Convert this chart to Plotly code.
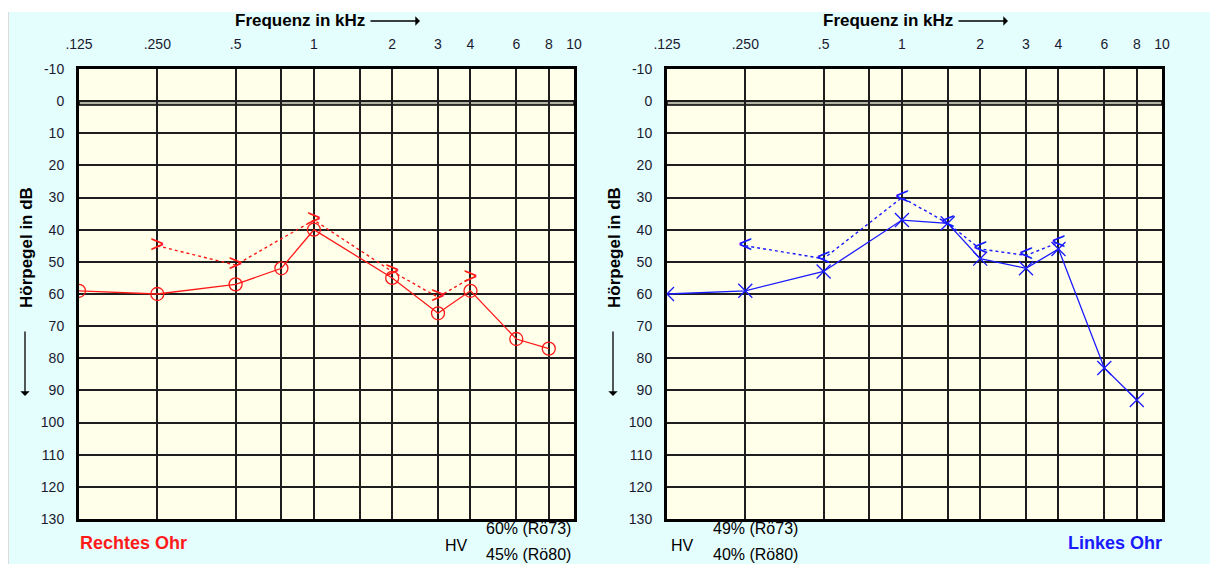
import math
import plotly.graph_objects as go

# ---- data ----
freq_right_air = [0.125, 0.25, 0.5, 0.75, 1, 2, 3, 4, 6, 8]
db_right_air = [59, 60, 57, 52, 40, 55, 66, 59, 74, 77]
freq_right_bone = [0.25, 0.5, 1, 2, 3, 4]
db_right_bone = [45, 51, 37, 53, 61, 55]

freq_left_air = [0.125, 0.25, 0.5, 1, 1.5, 2, 3, 4, 6, 8]
db_left_air = [60, 59, 53, 37, 38, 49, 52, 46, 83, 93]
freq_left_bone = [0.25, 0.5, 1, 1.5, 2, 3, 4]
db_left_bone = [45, 49, 30, 38, 46, 48, 44]

x_tickvals = [0.125, 0.25, 0.5, 1, 2, 3, 4, 6, 8, 10]
x_ticktext = [".125", ".250", ".5", "1", "2", "3", "4", "6", "8", "10"]
x_minor = [0.75, 1.5]
y_tickvals = list(range(-10, 131, 10))
y_ticktext = [str(v) for v in y_tickvals]

W, H = 1210, 564
RED = "#ff1a1a"
BLUE = "#1a1aff"
FONT = "Liberation Sans"


def px(x):  # x in page pixels
    return x / W


def py(y):  # y in page pixels
    return 1 - y / H


fig = go.Figure()

# right ear (left panel)
fig.add_trace(go.Scatter(x=freq_right_bone, y=db_right_bone, mode="lines+text",
                         text=[">"] * len(freq_right_bone), textposition="middle center",
                         textfont=dict(family=FONT, size=24, color=RED),
                         line=dict(color=RED, width=1.4, dash="dot"),
                         xaxis="x", yaxis="y", showlegend=False))
fig.add_trace(go.Scatter(x=freq_right_air, y=db_right_air, mode="lines+markers",
                         marker=dict(symbol="circle-open", size=13, color=RED, line=dict(width=1.3, color=RED)),
                         line=dict(color=RED, width=1.3),
                         xaxis="x", yaxis="y", showlegend=False))
# left ear (right panel)
fig.add_trace(go.Scatter(x=freq_left_bone, y=db_left_bone, mode="lines+text",
                         text=["<"] * len(freq_left_bone), textposition="middle center",
                         textfont=dict(family=FONT, size=24, color=BLUE),
                         line=dict(color=BLUE, width=1.4, dash="dot"),
                         xaxis="x2", yaxis="y2", showlegend=False))
fig.add_trace(go.Scatter(x=freq_left_air, y=db_left_air, mode="lines+markers",
                         marker=dict(symbol="x-thin-open", size=14, color=BLUE, line=dict(width=1.3, color=BLUE)),
                         line=dict(color=BLUE, width=1.3),
                         xaxis="x2", yaxis="y2", showlegend=False))

xrange_ = [math.log10(0.125), math.log10(10)]
grid_col = "#1e1e1e"


def xax(domain, anchor):
    return dict(type="log", range=xrange_, domain=domain, anchor=anchor, side="top",
                tickmode="array", tickvals=x_tickvals, ticktext=x_ticktext,
                ticks="outside", ticklen=11, tickcolor="rgba(0,0,0,0)",
                tickfont=dict(family=FONT, size=14, color="#1a1a30"),
                showgrid=True, gridcolor=grid_col, gridwidth=2,
                minor=dict(tickvals=x_minor, showgrid=True, gridcolor=grid_col, gridwidth=2),
                showline=True, linecolor="black", linewidth=3, mirror=True,
                zeroline=False, fixedrange=True, automargin=False)


def yax(domain, anchor):
    return dict(range=[130, -10], domain=domain, anchor=anchor,
                tickmode="array", tickvals=y_tickvals, ticktext=y_ticktext,
                ticks="outside", ticklen=9, tickcolor="rgba(0,0,0,0)",
                tickfont=dict(family=FONT, size=14, color="#1a1a30"),
                showgrid=True, gridcolor=grid_col, gridwidth=2,
                showline=True, linecolor="black", linewidth=3, mirror=True,
                zeroline=False, fixedrange=True, automargin=False)


ydom = [py(519), py(69)]
fig.update_layout(
    template="none",
    width=W, height=H,
    margin=dict(l=0, r=0, t=0, b=0, pad=0, autoexpand=False),
    paper_bgcolor="#e4fdfd",
    plot_bgcolor="#ffffea",
    showlegend=False,
    xaxis=xax([px(79), px(574)], "y"),
    yaxis=yax(ydom, "x"),
    xaxis2=xax([px(667), px(1162)], "y2"),
    yaxis2=yax(ydom, "x2"),
)

shapes = [
    # white strips at top and left of the page
    dict(type="rect", xref="paper", yref="paper", x0=0, x1=1, y0=py(12), y1=1,
         fillcolor="white", line=dict(width=0), layer="below"),
    dict(type="rect", xref="paper", yref="paper", x0=0, x1=px(8), y0=0, y1=1,
         fillcolor="white", line=dict(width=0), layer="below"),
    dict(type="line", xref="paper", yref="paper", x0=px(8.5), x1=px(8.5), y0=0, y1=py(12),
         line=dict(color="#dcdcdc", width=1), layer="below"),
]
for xr, yr in (("x", "y"), ("x2", "y2")):
    shapes.append(dict(type="rect", xref=xr + " domain", yref=yr, x0=0, x1=1, y0=0, y1=1.2,
                       fillcolor="#b4b4a4", line=dict(color="black", width=1.5), layer="below"))
fig.update_layout(shapes=shapes)

ann = []


def text(x, y, s, size=13, color="black", bold=False, angle=0):
    ann.append(dict(x=px(x), y=py(y), xref="paper", yref="paper",
                    text=("<b>%s</b>" % s) if bold else s,
                    showarrow=False, textangle=angle,
                    font=dict(family=FONT, size=size, color=color),
                    xanchor="center", yanchor="middle"))


def arrow(x0, y0, x1, y1):
    ann.append(dict(x=px(x1), y=py(y1), xref="paper", yref="paper", ax=x0 - x1, ay=y0 - y1,
                    axref="pixel", ayref="pixel", text="", showarrow=True,
                    arrowhead=1, arrowsize=1.2, arrowwidth=1.3, arrowcolor="black"))


for off in (0, 588):
    text(300 + off, 20, "Frequenz in kHz", size=17, bold=True)
    arrow(369 + off, 21, 420 + off, 21)
    text(27 + off, 248, "Hörpegel in dB", size=17, bold=True, angle=-90)
    arrow(25 + off, 330, 25 + off, 396)

text(133, 543, "Rechtes Ohr", size=18, color=RED, bold=True)
text(456, 545, "HV", size=16)
text(528, 528, "60% (Rö73)", size=16)
text(528, 554, "45% (Rö80)", size=16)

text(682, 545, "HV", size=16)
text(755, 528, "49% (Rö73)", size=16)
text(755, 554, "40% (Rö80)", size=16)
text(1115, 543, "Linkes Ohr", size=18, color=BLUE, bold=True)

fig.update_layout(annotations=ann)
fig.write_html("out.html", config={"displayModeBar": False},
               post_script="document.body.style.margin='0';document.body.style.overflow='hidden';")
